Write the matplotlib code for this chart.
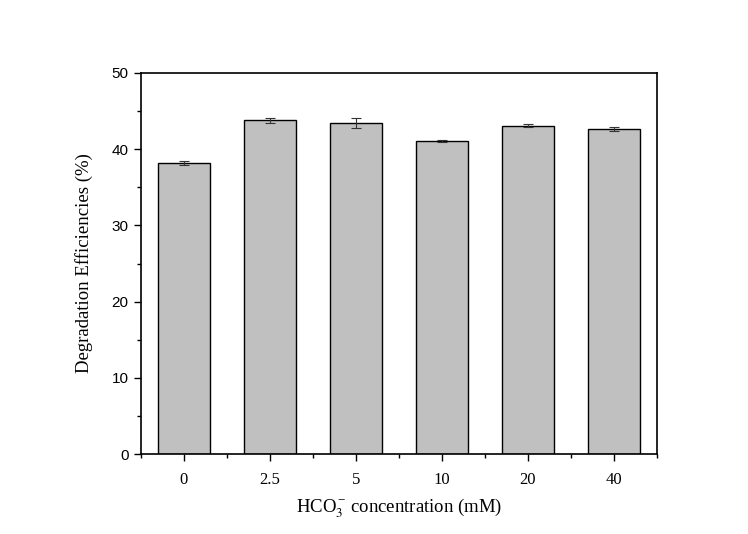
import matplotlib
matplotlib.use("Agg")
import matplotlib.pyplot as plt
from matplotlib.ticker import MultipleLocator, FixedLocator

categories = ["0", "2.5", "5", "10", "20", "40"]
efficiency = [38.2, 43.8, 43.4, 41.05, 43.05, 42.65]
errors = [0.3, 0.3, 0.65, 0.1, 0.2, 0.25]

plt.rcParams['mathtext.fontset'] = 'stix'

fig = plt.figure(figsize=(7.48, 5.34), dpi=100)
ax = fig.add_axes([0.1885, 0.1498, 0.6898, 0.7135])

x = list(range(len(categories)))
ax.bar(x, efficiency, width=0.6, color="#C0C0C0", edgecolor="black", linewidth=1.0, zorder=2)
ax.errorbar(x, efficiency, yerr=errors, fmt="none", ecolor="#333333", elinewidth=0.8,
            capsize=3.5, capthick=0.8, zorder=3)

ax.set_xlim(-0.5, len(categories) - 0.5)
ax.set_ylim(0, 50)
ax.set_xticks(x)
ax.set_xticklabels(categories, family="Liberation Serif", fontsize=12)
ax.xaxis.set_minor_locator(FixedLocator([i - 0.5 for i in range(len(categories) + 1)]))
ax.yaxis.set_major_locator(MultipleLocator(10))
ax.yaxis.set_minor_locator(MultipleLocator(5))
for lab in ax.get_yticklabels():
    lab.set_family("Liberation Sans")
    lab.set_fontsize(11)

ax.tick_params(which="major", direction="out", length=5, width=1.0, pad=4)
ax.tick_params(which="minor", direction="out", length=3, width=1.0)
ax.tick_params(axis="x", which="major", pad=8)
for s in ax.spines.values():
    s.set_linewidth(1.2)

ax.set_ylabel("Degradation Efficiencies (%)", family="Liberation Serif", fontsize=13.5, labelpad=13)
ax.set_xlabel(r"HCO$_3^{\,\mathregular{-}}$ concentration (mM)", family="Liberation Serif",
              fontsize=13.5, labelpad=6)

fig.savefig("out.png", dpi=100)
